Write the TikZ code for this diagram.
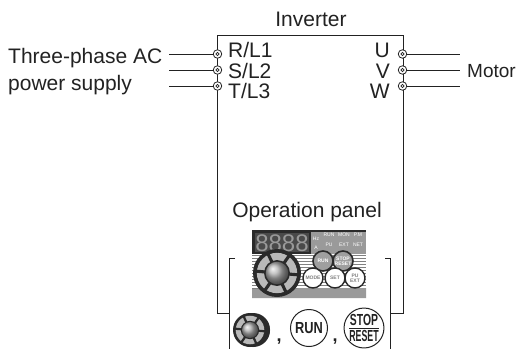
\documentclass[tikz,border=0pt]{standalone}
\usepackage{fontspec}
\setmainfont{Liberation Sans}
\usepackage{xcolor}
\usepackage{tikz}
\usetikzlibrary{calc,positioning,shadings}
\definecolor{inkx}{HTML}{222222}
\definecolor{panelx}{HTML}{9A9A9A}
\definecolor{darkx}{HTML}{2A2A2A}
\definecolor{dispx}{HTML}{4A4A4A}
\tikzset{
  wire/.style={line width=0.9pt,inkx},
  lab/.style={font=\fontsize{21}{24}\selectfont,text=inkx,inner sep=0pt},
  term/.style={circle,draw=inkx,line width=0.8pt,fill=white,minimum size=8.5pt,inner sep=0pt,
    path picture={\draw[inkx,line width=0.7pt] (path picture bounding box.center) circle (1.6);}},
  tiny/.style={font=\fontsize{5}{5}\selectfont,inner sep=0pt,text=white},
  btn/.style={circle,draw=darkx,line width=1.4pt,fill=white,minimum size=20pt,inner sep=0pt,align=center,font=\fontsize{5}{5}\selectfont\bfseries,text=gray},
  btndark/.style={btn,fill=gray!75,text=white,line width=1.6pt},
  bigbtn/.style={circle,draw=inkx,line width=1pt,fill=white,minimum size=37pt,inner sep=0pt,align=center,font=\fontsize{16}{14}\selectfont\bfseries,text=inkx}
}
\newcommand{\dialknob}[3]{% centre x, centre y, radius
  \fill[darkx] (#1,#2) circle (#3);
  \fill[gray!55] (#1,#2) circle (0.84*#3);
  \foreach \a in {5,65,...,305}{
    \draw[darkx,line width=0.13*#3 pt] (#1,#2) -- ($(#1,#2)+(\a:0.9*#3)$);
  }
  \fill[darkx] (#1,#2) circle (0.54*#3);
  \shade[ball color=gray!60] (#1,#2) circle (0.47*#3);
}
\begin{document}
\begin{tikzpicture}[x=1pt,y=-1pt]
\useasboundingbox (0,0) rectangle (520,349);
\fill[white] (0,0) rectangle (520,349);
% inverter outline
\draw[wire] (229,313)--(217,313)--(217,35)--(403,35)--(403,313)--(390,313);
\draw[wire] (235,258)--(229,258)--(229,349);
\draw[wire] (385,258)--(390,258)--(390,349);
\node[lab,anchor=base] (inv) at (311,26) {Inverter};
% input side
\node[term] (r) at (217.5,54) {};
\node[term] (s) at (217.5,70) {};
\node[term] (t) at (217.5,86) {};
\coordinate (rin) at (169,54);
\coordinate (sin) at (169,70);
\coordinate (tin) at (169,86);
\draw[wire] (rin)--(r);
\draw[wire] (sin)--(s);
\draw[wire] (tin)--(t);
\node[lab,anchor=base west] (rl) at (228,57) {R/L1};
\node[lab,anchor=base west] (sl) at (228,78) {S/L2};
\node[lab,anchor=base west] (tl) at (228,98) {T/L3};
\node[lab,anchor=base west] (acl) at (8,63) {Three-phase AC};
\node[lab,anchor=base west] (psu) at (8,90) {power supply};
% output side
\node[term] (u) at (402.5,54) {};
\node[term] (v) at (402.5,70) {};
\node[term] (w) at (402.5,86) {};
\coordinate (uout) at (460,54);
\coordinate (vout) at (460,70);
\coordinate (wout) at (460,86);
\draw[wire] (u)--(uout);
\draw[wire] (v)--(vout);
\draw[wire] (w)--(wout);
\node[lab,anchor=base east] (ul) at (390,57) {U};
\node[lab,anchor=base east] (vl) at (390,78) {V};
\node[lab,anchor=base east] (wl) at (390,98) {W};
\node[lab,font=\fontsize{19}{24}\selectfont,anchor=base west] (mot) at (467,77) {Motor};
% panel
\node[lab] (op) at (307,212) {Operation panel};
\fill[panelx] (252,230) rectangle (366,298);
\fill[white] (252,254) rectangle (366,289);
\foreach \y in {255,258,...,288}{
  \draw[gray,line width=0.6pt] (252,\y)--(366,\y);
}
\fill[panelx] (252,298)--(252,295)--(300,288)--(366,288)--(366,298)--cycle;
\fill[darkx] (252,230) rectangle (366,232);
\fill[darkx] (252,230) rectangle (311,254);
\fill[dispx] (255,233) rectangle (309,252);
\node[font=\fontsize{24}{24}\selectfont,text=gray!80,inner sep=0pt] (digits) at (282,243) {8888};
\node[tiny] (hz) at (316,239) {Hz};
\node[tiny] (amp) at (316,248) {A};
\node[tiny] (runl) at (329,235) {RUN};
\node[tiny] (monl) at (344,235) {MON};
\node[tiny] (pml) at (358,235) {P.M};
\node[tiny] (pul) at (329,245) {PU};
\node[tiny] (extl) at (344,245) {EXT};
\node[tiny] (netl) at (358,245) {NET};
\dialknob{277}{273}{24}
\node[btndark] (runb) at (323,261) {RUN};
\node[btndark] (stopb) at (343,261) {STOP\\RESET};
\node[btn] (modeb) at (313,278) {MODE};
\node[btn] (setb) at (335,278) {SET};
\node[btn] (pub) at (355,278) {PU\\EXT};
% keys below
\fill[darkx] (253,330) circle (17);
\fill[white] (252,330) circle (17.6);
\fill[darkx] (253,330) circle (17);
\dialknob{250}{330}{17}
\node[bigbtn] (runk) at (309,328) {\scalebox{0.8}[1]{RUN}};
\node[bigbtn] (stopk) at (364,328) {\scalebox{0.65}[1]{STOP}\\[2pt]\scalebox{0.55}[1]{RESET}};
\draw[inkx,line width=1pt] (stopk.center) ++(-15,0)--++(30,0);
\node[lab,font=\fontsize{18}{18}\selectfont\bfseries] (c1) at (279,342) {,};
\node[lab,font=\fontsize{18}{18}\selectfont\bfseries] (c2) at (335,342) {,};
\end{tikzpicture}
\end{document}
